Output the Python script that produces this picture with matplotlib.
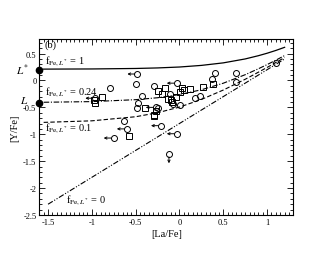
import matplotlib
matplotlib.use("Agg")
import matplotlib.pyplot as plt
from matplotlib.ticker import MultipleLocator

plt.rcParams['font.family'] = ['Liberation Serif', 'DejaVu Serif']
plt.rcParams['mathtext.fontset'] = 'stix'

# ---- model curves ----
curve_x = [-1.55, -1.0, -0.5, -0.25, 0.0, 0.25, 0.5, 0.75, 0.9, 1.0, 1.1, 1.2]
f1_y = [0.211, 0.214, 0.223, 0.233, 0.250, 0.280, 0.327, 0.400, 0.460, 0.506, 0.558, 0.616]
f024_y = [-0.405, -0.393, -0.357, -0.321, -0.262, -0.173, -0.051, 0.107, 0.217, 0.295, 0.377, 0.463]
f01_y = [-0.779, -0.750, -0.674, -0.600, -0.495, -0.353, -0.178, 0.022, 0.153, 0.242, 0.334, 0.427]
f0_x = [-1.5, 1.2]
f0_y = [-2.3, 0.4]

# ---- data points ----
circ_x = [-0.50, -0.79, -0.29, -0.43, -0.47, -0.48, -0.63, -0.11, -0.07, 0.01,
          -0.25, 0.37, 0.41, 0.18, 0.23, 0.65, 0.65, 1.10]
circ_y = [-0.07, -0.14, -0.11, -0.29, -0.41, -0.52, -0.75, -0.26, -0.43, -0.46,
          -0.51, 0.03, 0.14, -0.33, -0.28, 0.14, -0.03, 0.32]
sq_x = [-0.88, -0.96, -0.97, -0.39, -0.29, -0.58, -0.25, -0.16, -0.20, 0.03,
        0.12, 0.01, 0.05, -0.13, -0.10, -0.08, -0.04, -0.29, -0.27, 0.27, 0.38]
sq_y = [-0.31, -0.42, -0.37, -0.51, -0.65, -1.03, -0.20, -0.14, -0.26, -0.14,
        -0.15, -0.22, -0.18, -0.34, -0.37, -0.40, -0.30, -0.66, -0.57, -0.12, -0.06]
# circles with upper limits in [La/Fe] (arrow to the left)
xlim_x = [-0.48, -0.96, -0.27, -0.60, -0.75, -0.21, -0.03, -0.03]
xlim_y = [0.12, -0.33, -0.50, -0.90, -1.07, -0.84, -0.05, -0.99]
# circle with upper limit in [Y/Fe] (arrow down)
ylim_x = [-0.12]
ylim_y = [-1.37]

# markers on y axis
L_star = 0.20
L_val = -0.41

fig = plt.figure(figsize=(3.3, 2.55), dpi=100)
ax = fig.add_axes([0.119, 0.153, 0.770, 0.690])

lw = 0.8
ax.plot(curve_x, f1_y, color='black', lw=0.9, ls='-')
ax.plot(curve_x, f024_y, color='black', lw=lw, ls=(0, (5, 1.5, 1, 1.5)))
ax.plot(curve_x, f01_y, color='black', lw=lw, ls=(0, (4, 2)))
ax.plot(f0_x, f0_y, color='black', lw=lw, ls=(0, (5, 1.5, 1, 1.5, 1, 1.5)))

ms = 4.3
ax.plot(circ_x, circ_y, 'o', mfc='none', mec='black', mew=0.7, ms=ms)
ax.plot(sq_x, sq_y, 's', mfc='none', mec='black', mew=0.7, ms=3.8)
ax.plot(xlim_x, xlim_y, 'o', mfc='none', mec='black', mew=0.7, ms=ms)
ax.plot(ylim_x, ylim_y, 'o', mfc='none', mec='black', mew=0.7, ms=ms)
for x, y in zip(xlim_x, xlim_y):
    ax.annotate('', xy=(x - 0.115, y), xytext=(x - 0.03, y),
                arrowprops=dict(arrowstyle='->', lw=0.7, color='black',
                                mutation_scale=4, shrinkA=0, shrinkB=0))
for x, y in zip(ylim_x, ylim_y):
    ax.annotate('', xy=(x, y - 0.17), xytext=(x, y - 0.05),
                arrowprops=dict(arrowstyle='->', lw=0.7, color='black',
                                mutation_scale=4, shrinkA=0, shrinkB=0))

ax.set_xlim(-1.6, 1.3)
ax.set_ylim(-2.5, 0.77)

ax.plot([-1.6, -1.6], [L_star, L_val], 'o', color='black', ms=4.5, clip_on=False, zorder=5)
ax.text(-1.72, L_star, r'$L^{*}$', fontsize=8, ha='right', va='center')
ax.text(-1.72, L_val + 0.06, r'$L$', fontsize=8, ha='right', va='center')

fs = 7.5
ax.text(-1.54, 0.33, r'f$_{\mathrm{Fe},L^{*}}$ = 1', fontsize=fs)
ax.text(-1.54, -0.24, r'f$_{\mathrm{Fe},L^{*}}$ = 0.24', fontsize=fs)
ax.text(-1.54, -0.92, r'f$_{\mathrm{Fe},L^{*}}$ = 0.1', fontsize=fs)
ax.text(-1.30, -2.26, r'f$_{\mathrm{Fe},L^{*}}$ = 0', fontsize=fs)
ax.text(-1.54, 0.62, '(b)', fontsize=7.5)

ax.xaxis.set_major_locator(MultipleLocator(0.5))
ax.xaxis.set_minor_locator(MultipleLocator(0.05))
ax.yaxis.set_major_locator(MultipleLocator(0.5))
ax.yaxis.set_minor_locator(MultipleLocator(0.1))
ax.tick_params(which='both', direction='in', top=True, right=True, labelsize=6, width=0.6)
ax.tick_params(which='major', length=4, pad=2)
ax.tick_params(which='minor', length=2)
ax.set_xticks([-1.5, -1, -0.5, 0, 0.5, 1])
ax.set_xticklabels(['-1.5', '-1', '-0.5', '0', '0.5', '1'])
ax.set_yticks([0.5, 0, -0.5, -1, -1.5, -2, -2.5])
ax.set_yticklabels(['0.5', '0', '-0.5', '-1', '-1.5', '-2', '-2.5'])
for s in ax.spines.values():
    s.set_linewidth(0.8)

ax.set_xlabel('[La/Fe]', fontsize=7.5, labelpad=2)
ax.set_ylabel('[Y/Fe]', fontsize=7.5, labelpad=3)

fig.savefig('out.png', dpi=100)
